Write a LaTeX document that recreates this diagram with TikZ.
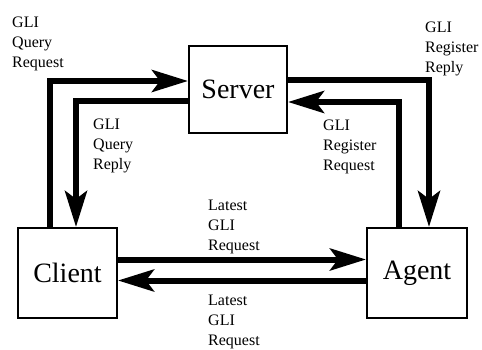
\documentclass[tikz,border=0pt]{standalone}
\usepackage{fontspec}
\setmainfont{Liberation Serif}
\usetikzlibrary{arrows.meta}

\begin{document}
\begin{tikzpicture}[x=1pt,y=-1pt,
	boxnode/.style={rectangle, draw=black, line width=2pt, inner sep=0pt, font=\fontsize{28}{30}\selectfont},
	msgnode/.style={anchor=north west, inner sep=0pt, align=left, font=\fontsize{16}{20}\selectfont},
	flow/.style={line width=6pt, -{Stealth[length=36pt,width=22pt,inset=8pt]}},]
						\useasboundingbox (0,0) rectangle (482,350);
						\node[boxnode, minimum width=98pt, minimum height=87pt](server) at (238,89.5){Server};
						\node[boxnode, minimum width=99pt, minimum height=90pt](client) at (67.5,273){Client};
						\node[boxnode, minimum width=100pt, minimum height=90pt](agent) at (417,273){Agent};

						\draw[flow]([xshift=-17.5pt]client.north) |- ([yshift=8.5pt]server.west);
						\draw[flow]([yshift=-11.5pt]server.west) -| ([xshift=8.5pt]client.north);
						\draw[flow]([yshift=9.5pt]server.east) -| ([xshift=12pt]agent.north);
						\draw[flow]([xshift=-18pt]agent.north) |- ([yshift=-12.5pt]server.east);
						\draw[flow]([yshift=13.5pt]client.east) -- ([yshift=13.5pt]agent.west);
						\draw[flow]([yshift=-7.5pt]agent.west) -- ([yshift=-7.5pt]client.east);

						\node[msgnode](queryreq) at (12,17){GLI\\Query\\Request};
						\node[msgnode](queryrep) at (93,119){GLI\\Query\\Reply};
						\node[msgnode](regrep) at (425,22){GLI\\Register\\Reply};
						\node[msgnode](regreq) at (323,120){GLI\\Register\\Request};
						\node[msgnode](latestreq) at (208,200){Latest\\GLI\\Request};
						\node[msgnode](latestrep) at (208,295){Latest\\GLI\\Request};
				\end{tikzpicture}
\end{document}
